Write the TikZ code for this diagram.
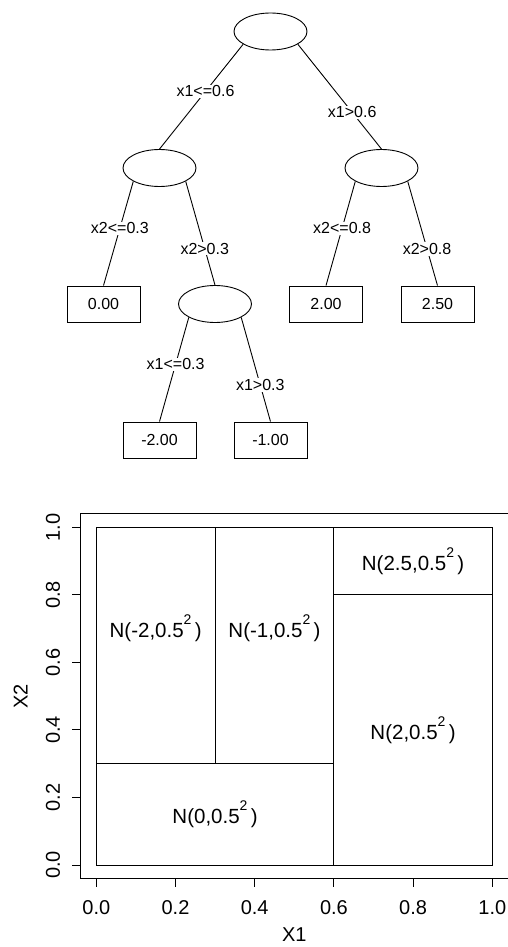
\documentclass[tikz,border=0pt]{standalone}
\usepackage{fontspec}
\setmainfont{Liberation Sans}
\usetikzlibrary{shapes.geometric}
\newcommand{\sqd}{\raisebox{0.64em}{\fontsize{14}{14}\selectfont 2}\,}

\begin{document}
\begin{tikzpicture}[x=1pt, y=-1pt, line width=0.9pt,
    split/.style={draw, ellipse, minimum width=73pt, minimum height=37pt, inner sep=0pt},
    leaf/.style={draw, rectangle, minimum width=73pt, minimum height=36pt, inner sep=0pt, font=\fontsize{16}{18}\selectfont},
    cond/.style={fill=white, inner sep=1pt, font=\fontsize{16}{18}\selectfont},
    region/.style={inner sep=0pt, font=\fontsize{20.5}{22}\selectfont},
    ticklbl/.style={inner sep=0pt, font=\fontsize{20}{22}\selectfont}]
    \useasboundingbox (0,0) rectangle (507,947);

    % tree
    \node[split] (root) at (270.5,31.5) {};
    \node[split] (s1) at (159.5,168) {};
    \node[split] (s2) at (381.5,168) {};
    \node[split] (s3) at (215,304) {};
    \node[leaf] (t1) at (103.5,304) {0.00};
    \node[leaf] (t4) at (326,304) {2.00};
    \node[leaf] (t5) at (437.5,304) {2.50};
    \node[leaf] (t2) at (159.5,440) {-2.00};
    \node[leaf] (t3) at (270.5,440) {-1.00};

    \draw (root.205) -- node[cond, pos=0.45] {x1<=0.6} (s1.north);
    \draw (root.335) -- node[cond, pos=0.65] {x1>0.6} (s2.north);
    \draw (s1.207) -- node[cond, pos=0.45] {x2<=0.3} (t1.north);
    \draw (s1.333) -- node[cond, pos=0.65] {x2>0.3} (s3.north);
    \draw (s2.207) -- node[cond, pos=0.45] {x2<=0.8} (t4.north);
    \draw (s2.333) -- node[cond, pos=0.65] {x2>0.8} (t5.north);
    \draw (s3.207) -- node[cond, pos=0.45] {x1<=0.3} (t2.north);
    \draw (s3.333) -- node[cond, pos=0.65] {x1>0.3} (t3.north);

    % partition of the unit square
    \begin{scope}[shift={(96.3,865)}, x=396pt, y=337.7pt]
      \draw (-0.04,-0.04) rectangle (1.04,1.04);
      \draw (0,0) rectangle (1,1);
      \draw (0.3,0.3) -- (0.3,1);
      \draw (0.6,0) -- (0.6,1);
      \draw (0,0.3) -- (0.6,0.3);
      \draw (0.6,0.8) -- (1,0.8);

      \foreach \v [count=\i] in {0.0,0.2,0.4,0.6,0.8,1.0} {
        \draw (\v,-0.04) -- ++(0,-8pt);
        \node[ticklbl] (xt\i) at ([yshift=-29pt]\v,-0.04) {\v};
        \draw (-0.04,\v) -- ++(-8pt,0);
        \node[ticklbl, rotate=90] (yt\i) at ([xshift=-27.5pt]-0.04,\v) {\v};
      }
      \node[ticklbl] (xlab) at ([yshift=-70pt]0.5,0) {X1};
      \node[ticklbl, rotate=90] (ylab) at ([xshift=-75.6pt]0,0.5) {X2};

      \node[region] (r1) at (0.15,0.7) {N(-2,0.5\sqd)};
      \node[region] (r2) at (0.45,0.7) {N(-1,0.5\sqd)};
      \node[region] (r3) at (0.3,0.15) {N(0,0.5\sqd)};
      \node[region] (r4) at (0.8,0.4) {N(2,0.5\sqd)};
      \node[region] (r5) at (0.8,0.9) {N(2.5,0.5\sqd)};
    \end{scope}
  \end{tikzpicture}
\end{document}
